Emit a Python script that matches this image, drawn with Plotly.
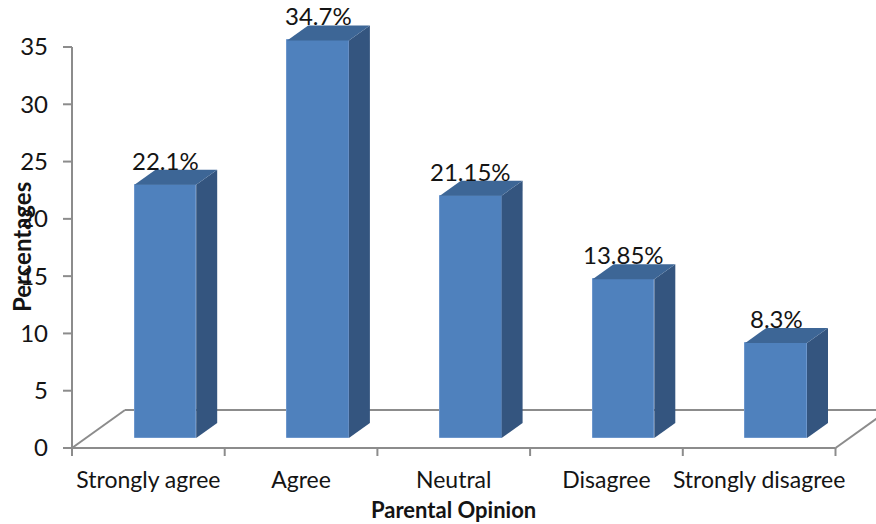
import plotly.graph_objects as go

# ---- data ----
categories = ["Strongly agree", "Agree", "Neutral", "Disagree", "Strongly disagree"]
percentages = [22.1, 34.7, 21.15, 13.85, 8.3]
value_labels = ["22.1%", "34.7%", "21.15%", "13.85%", "8.3%"]
y_ticks = [0, 5, 10, 15, 20, 25, 30, 35]

# ---- styling ----
FONT = "Lato"
TEXT_COLOR = "#141414"
AXIS_COLOR = "#8c8c8c"
FRONT = "#4F81BD"
SIDE = "#34557F"
TOP = "#3D6696"
TEXT_SIZE = 24
CAT_SIZE = 23
TITLE_SIZE = 22

# pixel scale of the two axes (px per unit)
PX_X = 152.7
PX_Y = 401 / 35

# pseudo-3D geometry, expressed in axis units
FLOOR_DX = 53 / PX_X
FLOOR_DY = 38 / PX_Y
BAR_SHIFT_X = 17 / PX_X
BAR_BASE = 10 / PX_Y
BAR_W = 61.7 / PX_X
SIDE_DX = 21 / PX_X
SIDE_DY = 15 / PX_Y
TICK_X = 9 / PX_X
TICK_Y = 8 / PX_Y

W, H = 876, 524
M_L, M_R, M_T, M_B = 57, 0, 5, 64
x_min = -0.5 - (72 - M_L) / PX_X
x_max = x_min + (W - M_L - M_R) / PX_X
y_min = -(H - M_B - 448) / PX_Y
y_max = (448 - M_T) / PX_Y

n = len(categories)
x_pos = list(range(n))
front_x = [i + BAR_SHIFT_X for i in x_pos]

fig = go.Figure()
fig.add_bar(
    x=front_x,
    y=percentages,
    base=BAR_BASE,
    width=BAR_W,
    marker=dict(color=FRONT, line=dict(color="#6C96CC", width=1)),
    hoverinfo="skip",
)

shapes = []
line_style = dict(color=AXIS_COLOR, width=2)

# floor outline
left, right = -0.5, n - 0.5
shapes.append(dict(type="line", x0=left, y0=0, x1=right, y1=0, line=line_style, layer="below"))
shapes.append(dict(type="line", x0=left, y0=0, x1=left + FLOOR_DX, y1=FLOOR_DY, line=line_style, layer="below"))
shapes.append(dict(type="line", x0=left + FLOOR_DX, y0=FLOOR_DY, x1=x_max + 1, y1=FLOOR_DY, line=line_style, layer="below"))
shapes.append(dict(type="line", x0=right, y0=0, x1=right + FLOOR_DX, y1=FLOOR_DY, line=line_style, layer="below"))

# category boundary ticks
for i in range(n + 1):
    xb = i - 0.5
    shapes.append(dict(type="line", x0=xb, y0=0, x1=xb, y1=-TICK_Y, line=line_style, layer="below"))

# value axis line and ticks
shapes.append(dict(type="line", x0=left, y0=0, x1=left, y1=max(y_ticks), line=line_style, layer="below"))
for t in y_ticks:
    shapes.append(dict(type="line", x0=left - TICK_X, y0=t, x1=left, y1=t, line=line_style, layer="below"))

# side and top faces of every bar
for xf, v in zip(front_x, percentages):
    xl = xf - BAR_W / 2
    xr = xf + BAR_W / 2
    b = BAR_BASE
    t = BAR_BASE + v
    side = (f"M {xr},{b} L {xr + SIDE_DX},{b + SIDE_DY} "
            f"L {xr + SIDE_DX},{t + SIDE_DY} L {xr},{t} Z")
    top = (f"M {xl},{t} L {xr},{t} L {xr + SIDE_DX},{t + SIDE_DY} "
           f"L {xl + SIDE_DX},{t + SIDE_DY} Z")
    shapes.append(dict(type="path", path=side, fillcolor=SIDE, line=dict(width=0), layer="above"))
    shapes.append(dict(type="path", path=top, fillcolor=TOP, line=dict(width=0), layer="above"))

annotations = []
for xf, v, lab in zip(front_x, percentages, value_labels):
    annotations.append(dict(
        x=xf, y=BAR_BASE + v, text=lab, showarrow=False,
        xanchor="center", yanchor="bottom", yshift=8,
        font=dict(family=FONT, size=TEXT_SIZE, color=TEXT_COLOR),
    ))

annotations.append(dict(
    x=2, xref="x", y=0, yref="paper", yshift=-35, yanchor="top",
    text="<b>Parental Opinion</b>", showarrow=False, borderpad=0,
    font=dict(family=FONT, size=TITLE_SIZE, color=TEXT_COLOR),
))
annotations.append(dict(
    x=0, xref="paper", xshift=-36, y=(H - M_B - 247) / (H - M_B - M_T), yref="paper",
    text="<b>Percentages</b>", textangle=-90, showarrow=False,
    xanchor="center", yanchor="middle",
    font=dict(family=FONT, size=TEXT_SIZE, color=TEXT_COLOR),
))

fig.update_layout(
    width=W, height=H,
    margin=dict(l=M_L, r=M_R, t=M_T, b=M_B),
    paper_bgcolor="white", plot_bgcolor="white",
    showlegend=False,
    bargap=0,
    shapes=shapes,
    annotations=annotations,
    font=dict(family=FONT, size=TEXT_SIZE, color=TEXT_COLOR),
)
fig.update_xaxes(
    range=[x_min, x_max],
    tickmode="array", tickvals=x_pos, ticktext=categories,
    ticks="", showline=False, showgrid=False, zeroline=False,
    ticklabelstandoff=4,
    tickfont=dict(family=FONT, size=CAT_SIZE, color=TEXT_COLOR),
)
fig.update_yaxes(
    range=[y_min, y_max],
    tickmode="array", tickvals=y_ticks,
    ticks="", showline=False, showgrid=False, zeroline=False,
    ticklabelstandoff=8,
    tickfont=dict(family=FONT, size=TEXT_SIZE, color=TEXT_COLOR),
)

fig.write_html("out.html")
